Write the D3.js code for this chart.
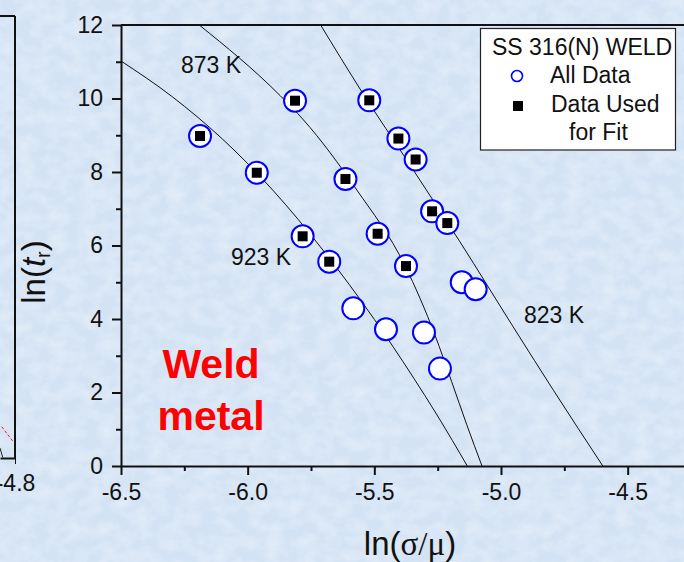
<!DOCTYPE html>
<html>
<head>
<meta charset="utf-8">
<script src="https://cdn.jsdelivr.net/npm/d3@7"></script>
<style>
  body { margin: 0; background: #d7e6f5; }
  svg { display: block; font-family: "Liberation Sans", Arial, sans-serif; }
  .axis path, .axis line { stroke: #111; }
  .axis text { fill: #111; font-size: 23px; font-family: "Liberation Sans", Arial, sans-serif; }
</style>
</head>
<body>
<script>
// creep rupture data, SS 316(N) weld metal: ln(stress/shear modulus) vs ln(rupture time)
const tempLabels = ['823 K', '873 K', '923 K']

// points used for the fit (circle + square)
const used823X = [-5.520, -5.405, -5.337, -5.272, -5.212]
const used823Y = [9.95, 8.91, 8.34, 6.93, 6.61]
const used873X = [-5.813, -5.614, -5.487, -5.375]
const used873Y = [9.94, 7.81, 6.32, 5.44]
const used923X = [-6.188, -5.964, -5.783, -5.678]
const used923Y = [8.98, 7.98, 6.25, 5.56]

// remaining points (circle only)
const rest823X = [-5.155, -5.100]
const rest823Y = [5.00, 4.81]
const rest873X = [-5.304, -5.241]
const rest873Y = [3.63, 2.65]
const rest923X = [-5.583, -5.454]
const rest923Y = [4.29, 3.72]

// fit lines
const fit823X = [-5.712, -5.55, -5.36, -5.162, -4.944, -4.793, -4.598]
const fit823Y = [12, 10.19, 8.2, 6.10, 3.70, 2.06, 0]
const fit873X = [-6.191, -5.872, -5.780, -5.569, -5.379, -5.260, -5.195, -5.135, -5.075]
const fit873Y = [12, 10.08, 9.42, 7.51, 5.45, 3.55, 2.30, 1.12, 0]
const fit923X = [-6.50, -6.30, -6.10, -5.90, -5.70, -5.50, -5.35, -5.25, -5.133]
const fit923Y = [11.02, 10.06, 8.90, 7.50, 5.85, 3.99, 2.45, 1.36, 0]

const xMajor = [-6.5, -6.0, -5.5, -5.0, -4.5]
const xMinor = [-6.25, -5.75, -5.25, -4.75]
const yMajor = [0, 2, 4, 6, 8, 10, 12]
const yMinor = [1, 3, 5, 7, 9, 11]

// neighbouring panel, only its right edge shows
const fragTick = [-4.8]
const fragRedX = [-4.8443, -4.8057]
const fragRedY = [0.85, 0.44]
const fragBlackX = [-4.85, -4.841]
const fragBlackY = [0.27, 0.02]

const zip = (xs, ys) => xs.map((d, i) => [d, ys[i]])

const svg = d3.select('body').append('svg')
    .attr('width', 684)
    .attr('height', 562)

// mottled background
const defs = svg.append('defs')
const filt = defs.append('filter').attr('id', 'tex')
    .attr('x', 0).attr('y', 0).attr('width', '100%').attr('height', '100%')
filt.append('feTurbulence')
    .attr('type', 'fractalNoise')
    .attr('baseFrequency', '0.06 0.08')
    .attr('numOctaves', 3)
    .attr('seed', 4)
filt.append('feColorMatrix')
    .attr('type', 'matrix')
    .attr('values', '0 0 0 0 1  0 0 0 0 1  0 0 0 0 1  0 0 0 1.4 -0.5')
svg.append('rect').attr('width', 684).attr('height', 562).attr('fill', '#d4e3f4')
svg.append('rect').attr('width', 684).attr('height', 562)
    .attr('filter', 'url(#tex)').attr('opacity', 0.45)

defs.append('clipPath').attr('id', 'plotclip')
    .append('rect').attr('x', 121).attr('y', 25).attr('width', 570).attr('height', 441)

// ---- left fragment
const xL = d3.scaleLinear().domain([-4.85, -4.8]).range([0, 15])
const yL = d3.scaleLinear().domain([0, 12]).range([458, 16])
const frag = svg.append('g')
frag.append('line')
    .attr('x1', xL(-4.85)).attr('x2', xL(-4.8))
    .attr('y1', yL(12)).attr('y2', yL(12))
    .attr('stroke', '#111').attr('stroke-width', 2)
frag.append('line')
    .attr('x1', xL(-4.8)).attr('x2', xL(-4.8))
    .attr('y1', yL(12)).attr('y2', yL(0))
    .attr('stroke', '#111').attr('stroke-width', 2)
frag.append('g')
    .attr('class', 'axis')
    .attr('transform', `translate(0,${yL(0)})`)
    .call(d3.axisBottom(xL).tickValues(fragTick).tickSize(6).tickPadding(11)
        .tickSizeOuter(0).tickFormat(d => d.toFixed(1)))
    .select('.domain').attr('stroke-width', 2)
const fragLine = d3.line().x(d => xL(d[0])).y(d => yL(d[1]))
frag.append('path')
    .attr('d', fragLine(zip(fragRedX, fragRedY)))
    .attr('fill', 'none').attr('stroke', '#ff2020').attr('stroke-width', 1)
    .attr('stroke-dasharray', '3,2')
frag.append('path')
    .attr('d', fragLine(zip(fragBlackX, fragBlackY)))
    .attr('fill', 'none').attr('stroke', '#222').attr('stroke-width', 1)

// ---- main panel
const x = d3.scaleLinear().domain([-6.5, -4.25]).range([121, 691])
const y = d3.scaleLinear().domain([0, 12]).range([466, 25])

// top frame
svg.append('line')
    .attr('x1', x(-6.5)).attr('x2', x(-4.25))
    .attr('y1', y(12)).attr('y2', y(12))
    .attr('stroke', '#111').attr('stroke-width', 2)

const fmt = d => d.toFixed(1)
const xAxis = svg.append('g').attr('class', 'axis')
    .attr('transform', `translate(0,${y(0)})`)
    .call(d3.axisBottom(x).tickValues(xMajor).tickFormat(fmt).tickSize(9).tickPadding(9).tickSizeOuter(0))
xAxis.select('.domain').attr('stroke-width', 2)
xAxis.selectAll('.tick line').attr('stroke-width', 2)
svg.append('g').attr('class', 'axis')
    .attr('transform', `translate(0,${y(0)})`)
    .call(d3.axisBottom(x).tickValues(xMinor).tickFormat('').tickSize(5).tickSizeOuter(0))
    .call(g => g.select('.domain').remove())
    .selectAll('.tick line').attr('stroke-width', 2)

const yAxis = svg.append('g').attr('class', 'axis')
    .attr('transform', `translate(${x(-6.5)},0)`)
    .call(d3.axisLeft(y).tickValues(yMajor).tickSize(9).tickPadding(9).tickSizeOuter(0))
yAxis.select('.domain').attr('stroke-width', 2)
yAxis.selectAll('.tick line').attr('stroke-width', 2)
svg.append('g').attr('class', 'axis')
    .attr('transform', `translate(${x(-6.5)},0)`)
    .call(d3.axisLeft(y).tickValues(yMinor).tickFormat('').tickSize(5).tickSizeOuter(0))
    .call(g => g.select('.domain').remove())
    .selectAll('.tick line').attr('stroke-width', 2)

// axis titles
const yTitle = svg.append('text')
    .attr('transform', 'translate(45,272) rotate(-90)')
    .attr('text-anchor', 'middle')
    .attr('font-size', 33)
    .attr('fill', '#111')
yTitle.append('tspan').text('ln(')
yTitle.append('tspan').attr('font-style', 'italic').text('t')
yTitle.append('tspan').attr('font-size', 20).attr('baseline-shift', '-25%').text('r')
yTitle.append('tspan').text(')')

const xTitle = svg.append('text')
    .attr('x', 410).attr('y', 555)
    .attr('text-anchor', 'middle')
    .attr('font-size', 33)
    .attr('fill', '#111')
xTitle.append('tspan').text('ln(')
xTitle.append('tspan').attr('font-family', '"Liberation Serif", "Times New Roman", serif').text('σ/μ')
xTitle.append('tspan').text(')')

// fit lines
const line = d3.line()
    .x(d => x(d[0]))
    .y(d => y(d[1]))
    .curve(d3.curveMonotoneX)
const fits = [zip(fit823X, fit823Y), zip(fit873X, fit873Y), zip(fit923X, fit923Y)]
svg.append('g')
    .attr('clip-path', 'url(#plotclip)')
    .selectAll('path')
    .data(fits)
    .enter().append('path')
    .attr('d', line)
    .attr('fill', 'none')
    .attr('stroke', '#111')
    .attr('stroke-width', 1)

// temperature labels
svg.selectAll('.temp')
    .data(tempLabels)
    .enter().append('text')
    .attr('class', 'temp')
    .attr('x', (d, i) => [524, 181, 231][i])
    .attr('y', (d, i) => [323, 73, 265][i])
    .attr('font-size', 23)
    .attr('fill', '#111')
    .text(d => d)

// data points
const rest = [].concat(zip(rest923X, rest923Y), zip(rest873X, rest873Y), zip(rest823X, rest823Y))
const used = [].concat(zip(used923X, used923Y), zip(used873X, used873Y), zip(used823X, used823Y))
const pts = svg.append('g')
pts.selectAll('circle.rest')
    .data(rest)
    .enter().append('circle')
    .attr('class', 'rest')
    .attr('cx', d => x(d[0]))
    .attr('cy', d => y(d[1]))
    .attr('r', 11)
    .attr('fill', '#fff')
    .attr('stroke', '#0000ff')
    .attr('stroke-width', 2)
const usedG = pts.selectAll('g.used')
    .data(used)
    .enter().append('g')
    .attr('class', 'used')
    .attr('transform', d => `translate(${x(d[0])},${y(d[1])})`)
usedG.append('circle')
    .attr('r', 11)
    .attr('fill', '#fff')
    .attr('stroke', '#0000ff')
    .attr('stroke-width', 2)
usedG.append('rect')
    .attr('x', -5).attr('y', -5)
    .attr('width', 10).attr('height', 10)
    .attr('fill', '#000')

// Weld metal
const wm = svg.append('text')
    .attr('text-anchor', 'middle')
    .attr('font-size', 41)
    .attr('font-weight', 'bold')
    .attr('fill', '#ff0000')
wm.append('tspan').attr('x', 211).attr('y', 378).text('Weld')
wm.append('tspan').attr('x', 211).attr('y', 430).text('metal')

// legend
const leg = svg.append('g')
leg.append('rect')
    .attr('x', 480.5).attr('y', 28.5)
    .attr('width', 195).attr('height', 121.5)
    .attr('fill', '#fff')
    .attr('stroke', '#222')
    .attr('stroke-width', 1.2)
leg.append('text').attr('x', 492).attr('y', 55).attr('font-size', 23).attr('fill', '#111')
    .text('SS 316(N) WELD')
leg.append('circle').attr('cx', 517).attr('cy', 76).attr('r', 5.5)
    .attr('fill', 'none').attr('stroke', '#0000ff').attr('stroke-width', 1.6)
leg.append('text').attr('x', 550).attr('y', 83).attr('font-size', 23).attr('fill', '#111')
    .text('All Data')
leg.append('rect').attr('x', 513).attr('y', 101).attr('width', 10).attr('height', 10)
    .attr('fill', '#000')
leg.append('text').attr('x', 551).attr('y', 112).attr('font-size', 23).attr('fill', '#111')
    .text('Data Used')
leg.append('text').attr('x', 569).attr('y', 140).attr('font-size', 23).attr('fill', '#111')
    .text('for Fit')
</script>
</body>
</html>
